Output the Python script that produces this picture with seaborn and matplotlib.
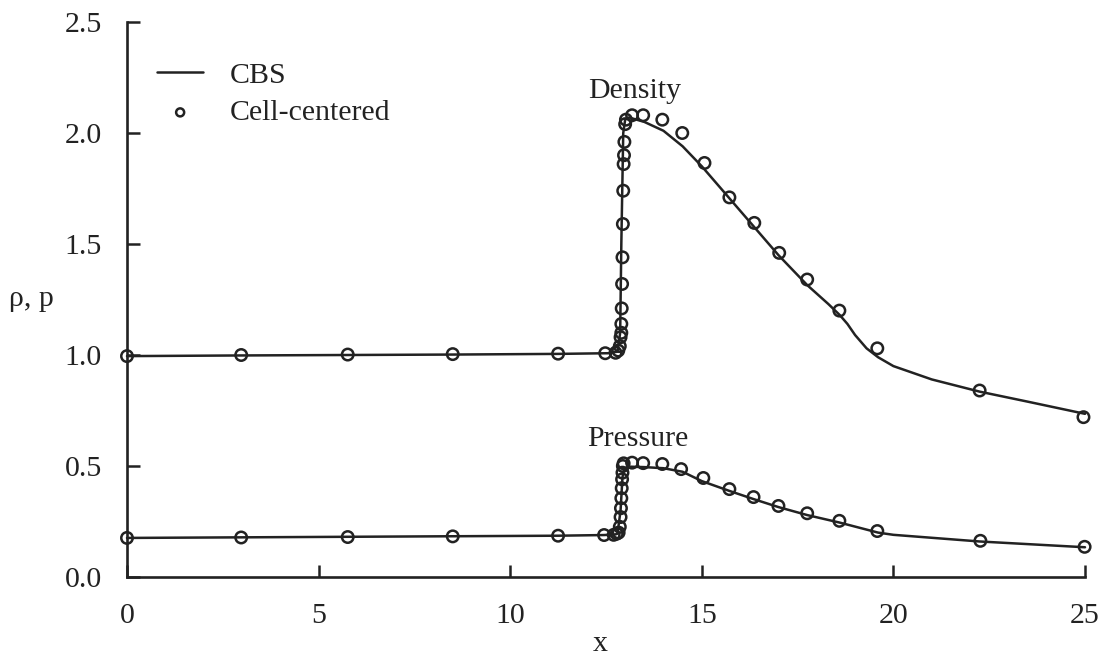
import matplotlib
matplotlib.use("Agg")
import matplotlib.pyplot as plt
import seaborn as sns
import pandas as pd

# ---- data ----
cbs_rho_x = [0, 3, 5.77, 8.5, 11.25, 12.55, 12.8, 12.87, 12.9, 12.95, 13.0, 13.1, 13.5, 14.0, 14.5,
             15.0, 15.7, 16.4, 17.0, 17.75, 18.3, 18.6, 18.8, 19.0, 19.3, 19.6, 20.0, 21.0, 22.25, 23.5, 25.0]
cbs_rho_y = [0.995, 0.998, 1.0, 1.002, 1.005, 1.008, 1.015, 1.1, 1.5, 2.0, 2.06, 2.07, 2.05, 2.01, 1.94,
             1.85, 1.71, 1.57, 1.45, 1.315, 1.23, 1.18, 1.14, 1.09, 1.03, 0.99, 0.95, 0.89, 0.835, 0.79, 0.735]

cc_rho_x = [0, 2.98, 5.76, 8.5, 11.25, 12.48, 12.75, 12.82, 12.86, 12.88, 12.9, 12.9, 12.91, 12.92, 12.93,
            12.94, 12.95, 12.96, 12.97, 12.98, 13.0, 13.02, 13.18, 13.47, 13.97, 14.49, 15.07, 15.72, 16.37,
            17.02, 17.75, 18.59, 19.58, 22.25, 24.96]
cc_rho_y = [0.995, 1.0, 1.002, 1.004, 1.006, 1.008, 1.01, 1.02, 1.04, 1.08, 1.10, 1.14, 1.21, 1.32, 1.44,
            1.59, 1.74, 1.86, 1.90, 1.96, 2.04, 2.06, 2.08, 2.08, 2.06, 2.00, 1.865, 1.71, 1.595,
            1.46, 1.34, 1.20, 1.03, 0.84, 0.72]

cbs_p_x = [0, 11.25, 12.45, 12.75, 12.8, 12.88, 12.93, 12.98, 13.1, 13.5, 14.0, 14.5, 15.0, 15.7, 16.35,
           17.0, 17.75, 18.6, 19.6, 20.0, 22.25, 25.0]
cbs_p_y = [0.176, 0.186, 0.189, 0.192, 0.195, 0.30, 0.45, 0.49, 0.497, 0.495, 0.49, 0.474, 0.432, 0.389, 0.351,
           0.315, 0.279, 0.245, 0.20, 0.19, 0.16, 0.134]

cc_p_x = [0, 2.98, 5.76, 8.5, 11.25, 12.45, 12.7, 12.78, 12.83, 12.86, 12.88, 12.89, 12.9, 12.91, 12.92,
          12.93, 12.94, 12.96, 13.18, 13.47, 13.97, 14.46, 15.04, 15.72, 16.35, 17.0, 17.75, 18.59, 19.58,
          22.27, 24.99]
cc_p_y = [0.176, 0.178, 0.180, 0.183, 0.186, 0.189, 0.19, 0.195, 0.20, 0.226, 0.27, 0.31, 0.355, 0.40, 0.44,
          0.47, 0.50, 0.512, 0.515, 0.513, 0.509, 0.486, 0.446, 0.396, 0.36, 0.32, 0.287, 0.253, 0.207,
          0.163, 0.136]

x_ticks = [0, 5, 10, 15, 20, 25]
y_ticks = [0.0, 0.5, 1.0, 1.5, 2.0, 2.5]
y_tick_labels = ["0.0", "0.5", "1.0", "1.5", "2.0", "2.5"]

# ---- style ----
sns.set_style("ticks")
plt.rcParams['font.family'] = ['Liberation Serif', 'DejaVu Serif']
FS = 21.5
INK = "#222222"

fig = plt.figure(figsize=(11.11, 6.57), dpi=100)
ax = fig.add_axes([127 / 1111, 80 / 657, 958 / 1111, 555 / 657])

df_rho = pd.DataFrame({"x": cbs_rho_x, "y": cbs_rho_y})
df_p = pd.DataFrame({"x": cbs_p_x, "y": cbs_p_y})
sns.lineplot(data=df_rho, x="x", y="y", ax=ax, sort=False, color=INK, lw=1.8, label="CBS")
sns.lineplot(data=df_p, x="x", y="y", ax=ax, sort=False, color=INK, lw=1.8)

dfc_rho = pd.DataFrame({"x": cc_rho_x, "y": cc_rho_y})
dfc_p = pd.DataFrame({"x": cc_p_x, "y": cc_p_y})
sns.scatterplot(data=dfc_rho, x="x", y="y", ax=ax, marker="o", s=68, facecolors="none",
                edgecolor=INK, linewidth=1.8, label="Cell-centered", zorder=3)
sns.scatterplot(data=dfc_p, x="x", y="y", ax=ax, marker="o", s=68, facecolors="none",
                edgecolor=INK, linewidth=1.8, zorder=3)

ax.set_xlim(0, 25)
ax.set_ylim(0, 2.5)
ax.set_xticks(x_ticks)
ax.set_xticklabels([str(t) for t in x_ticks])
ax.set_yticks(y_ticks)
ax.set_yticklabels(y_tick_labels)
ax.tick_params(direction="in", length=9, width=1.8, colors=INK, labelsize=FS)
ax.tick_params(axis="x", pad=19)
ax.tick_params(axis="y", pad=18)
for s in ["top", "right"]:
    ax.spines[s].set_visible(False)
for s in ["left", "bottom"]:
    ax.spines[s].set_linewidth(1.9)
    ax.spines[s].set_color(INK)
ax.spines["left"].set_bounds(0, 2.5)
for c in ax.collections + ax.lines:
    c.set_clip_on(False)

ax.set_xlabel("x", fontsize=FS, color=INK)
ax.xaxis.set_label_coords(0.494, -0.097)
ax.set_ylabel("ρ, p", fontsize=FS, color=INK, rotation=0, ha="center", va="center")
ax.yaxis.set_label_coords(-0.1, 0.5)

ax.text(13.24, 2.19, "Density", fontsize=FS, color=INK, ha="center", va="center")
ax.text(13.34, 0.62, "Pressure", fontsize=FS, color=INK, ha="center", va="center")

leg = ax.legend(loc="upper left", bbox_to_anchor=(30 / 958, 0.928), frameon=False, fontsize=FS,
                handlelength=1.55, handletextpad=0.9, labelspacing=0.35, borderpad=0,
                borderaxespad=0, markerscale=0.7)
for t in leg.get_texts():
    t.set_color(INK)

fig.savefig("out.png", dpi=100)
